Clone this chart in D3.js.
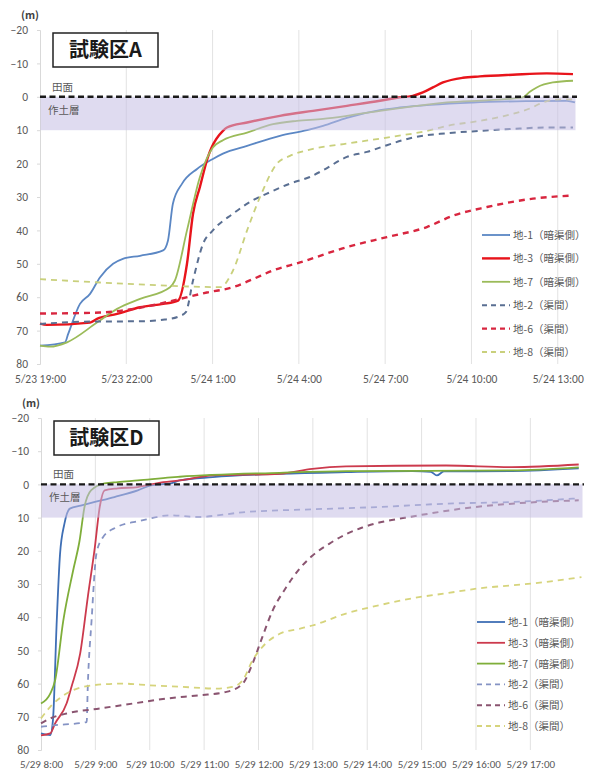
<!DOCTYPE html>
<html>
<head>
<meta charset="utf-8">
<script src="https://cdn.jsdelivr.net/npm/d3@7"></script>
<style>
  html, body { margin: 0; padding: 0; background: #fff; }
  svg { display: block; font-family: "Noto Sans CJK JP", "Noto Sans", sans-serif; }
</style>
</head>
<body>
<svg id="chart" width="593" height="771"></svg>
<script>
// ---- 試験区A : elapsed hours from 5/23 19:00, depth (m) ----
const aStart = new Date(2020, 4, 23, 19, 0);
const aEnd = 18.6;
const aTickHours = [0, 3, 6, 9, 12, 15, 18];
const aTickLabels = ["5/23 19:00", "5/23 22:00", "5/24 1:00", "5/24 4:00", "5/24 7:00", "5/24 10:00", "5/24 13:00"];

const aChi1 = [[0,74.5],[0.87,73.5],[0.98,71],[1.39,62],[1.74,59],[2.09,54],[2.54,50],[2.88,48.5],[3.48,47.6],[4.28,46],[4.45,43],[4.62,32],[4.94,26],[5.46,21.6],[6.01,18.6],[6.36,17],[7.2,14.7],[8.34,11.7],[9.28,10],[9.84,8.7],[10.67,6.3],[11.82,4],[12.51,3.2],[15.05,1.7],[17.03,1.3],[18.32,1.2],[18.6,1.7]];
const aChi3 = [[0,67.9],[0.24,68.3],[1.74,67.6],[1.98,66.5],[2.68,65],[3.48,63],[4.28,62],[4.8,61],[5.11,50],[5.32,35],[5.56,27],[5.84,18],[5.95,15.5],[6.36,10.2],[6.5,9.2],[7.2,7.7],[8.34,5.7],[9.49,4.2],[10.67,2.7],[11.82,1.2],[12.41,0.3],[12.96,-0.3],[13.31,-1.3],[13.66,-2.8],[14.01,-4.3],[14.7,-5.7],[15.29,-6.1],[16.44,-6.6],[17.62,-7],[18.53,-6.8]];
const aChi7 = [[0,74.5],[0.35,74.8],[0.94,73.5],[1.98,67.6],[2.68,63.5],[3.48,60.5],[4.52,57],[4.69,55],[5.11,40],[5.56,24],[6.01,15.2],[6.36,13],[7.2,10.7],[8.1,8.2],[8.93,7.2],[9.84,6.6],[10.67,5.7],[11.82,4.2],[12.51,3.4],[14.15,1.7],[15.64,1],[16.79,0.2],[17.03,-1.5],[17.27,-2.8],[17.83,-4.3],[18.53,-4.8]];
const aChi2 = [[0,68],[1.74,67.3],[3.48,67.2],[4.34,66.7],[4.87,65.6],[5.07,64.5],[5.32,55],[5.67,44],[6.01,40],[6.71,35],[7.4,31],[7.89,29],[8.69,26],[9.38,24],[9.84,22],[10.67,18],[11.37,16.5],[12.06,14.5],[12.96,12.2],[14.15,10.9],[15.29,10.2],[16.44,9.6],[17.62,9.2],[18.53,9.2]];
const aChi6 = [[0,64.9],[2.09,64.6],[3.82,62.6],[4.87,60.5],[5.8,58.6],[6.71,57],[7.4,54.6],[8.1,52],[9.04,49.6],[10.67,45],[12.06,42],[13.45,39],[14.36,35.6],[15.54,33],[17.14,30.5],[18.42,29.6]];
const aChi8 = [[0,54.6],[2.09,55.6],[3.82,56.3],[5.56,56.9],[6.26,57],[6.71,52],[7.2,40],[7.65,30],[8.24,20],[8.69,17.7],[9.49,15.6],[10.67,14],[12.06,12.2],[13.45,10.2],[14.15,8.7],[15.29,7.2],[16.44,5.1],[17.03,3.5],[17.48,1.7],[18.07,0.8],[18.53,0.8]];

// ---- 試験区D : elapsed hours from 5/29 8:00, depth (m) ----
const dStart = new Date(2020, 4, 29, 8, 0);
const dEnd = 9.95;
const dTickHours = [0, 1, 2, 3, 4, 5, 6, 7, 8, 9];
const dTickLabels = ["5/29 8:00", "5/29 9:00", "5/29 10:00", "5/29 11:00", "5/29 12:00", "5/29 13:00", "5/29 14:00", "5/29 15:00", "5/29 16:00", "5/29 17:00"];

const dChi1 = [[0,75],[0.17,75.5],[0.22,71],[0.29,41],[0.35,21],[0.43,11.9],[0.53,7.3],[0.73,6.4],[0.99,5.3],[1.35,3.8],[1.78,1.8],[2.02,0.3],[2.39,-0.3],[2.55,-1.2],[3.16,-2.2],[4.39,-3.2],[5.61,-3.7],[6.83,-4],[7.17,-3.8],[7.28,-2.7],[7.41,-3.9],[8.66,-4],[9.89,-4.8]];
const dChi3 = [[0,75.6],[0.17,75],[0.26,72],[0.47,66],[0.56,61],[0.72,51],[0.86,34],[0.99,19],[1.08,6.8],[1.17,1.8],[1.41,1.2],[1.78,0.8],[2.15,-0.4],[2.55,-1.2],[3.16,-2.7],[4.39,-3.2],[4.99,-4.7],[5.61,-5.4],[7.45,-5.7],[8.66,-5.2],[9.89,-6]];
const dChi7 = [[0,66],[0.17,63],[0.26,59],[0.41,41],[0.59,26],[0.71,16.9],[0.8,6.8],[0.92,1.8],[1.17,-0.3],[1.41,-0.7],[1.78,-1.2],[2.39,-2.1],[2.55,-2.3],[4.39,-3.5],[5.61,-4],[8.66,-4.2],[9.89,-5.1]];
const dChi2 = [[0,73],[0.22,72.6],[0.84,71.6],[0.86,61],[0.93,41],[1.02,20.8],[1.14,15.9],[1.39,12.9],[1.82,11],[2.39,9.3],[2.86,9.8],[3.78,8.3],[4.99,7.5],[6.22,6.8],[7.45,5.8],[8.66,5.3],[9.89,4.2]];
const dChi6 = [[0,72],[0.17,70.5],[0.47,69],[1.08,67.5],[1.69,66],[2.31,64.5],[2.92,63.5],[3.41,62.5],[3.71,60],[3.89,54],[4.07,46],[4.26,38],[4.51,31],[4.75,25.5],[4.99,21.5],[5.3,17.9],[5.61,15],[5.91,13],[6.22,11.5],[6.53,10.5],[7.14,8.8],[7.74,7.3],[8.66,5.8],[9.89,4.8]];
const dChi8 = [[0,70.5],[0.17,67],[0.47,63],[0.95,60.5],[1.5,60],[2.0,60.5],[2.61,61],[3.23,61.5],[3.52,61],[3.71,59],[3.89,53],[4.07,49],[4.39,45],[4.75,43.5],[4.99,42.5],[5.61,38.9],[6.22,36.4],[6.83,34.3],[7.45,32.8],[8.06,31.3],[8.66,30.4],[9.28,29.4],[9.94,27.9]];

const seriesNames = ["地-1（暗渠側）", "地-3（暗渠側）", "地-7（暗渠側）", "地-2（渠間）", "地-6（渠間）", "地-8（渠間）"];
const yTicks = [-20, -10, 0, 10, 20, 30, 40, 50, 60, 70, 80];

const svg = d3.select("#chart");
const HOUR = 3600 * 1000;

function drawPanel(cfg) {
  const g = svg.append("g");
  const t = h => new Date(cfg.start.getTime() + h * HOUR);
  const x = d3.scaleTime().domain([t(0), t(cfg.end)]).range([cfg.left, cfg.right]);
  const y = d3.scaleLinear().domain([-20, 80]).range([cfg.top, cfg.bottom]);

  // vertical grid lines at each time tick
  g.append("g").selectAll("line").data(cfg.tickHours.slice(1)).join("line")
    .attr("x1", h => x(t(h))).attr("x2", h => x(t(h)))
    .attr("y1", cfg.top).attr("y2", cfg.bottom)
    .attr("stroke", "#e2e2e2").attr("stroke-width", 1);

  // y axis
  const yAxis = d3.axisLeft(y).tickValues(yTicks).tickSize(3).tickPadding(9).tickFormat(d3.format("d"));
  const ya = g.append("g").attr("transform", `translate(${cfg.left},0)`).call(yAxis);
  ya.select(".domain").attr("stroke", "#d9d9d9");
  ya.selectAll(".tick line").attr("stroke", "#d9d9d9");
  ya.selectAll("text").attr("fill", "#595959").style("font-size", "11.5px").style("font-family", "Calibri, Carlito, 'Liberation Sans', sans-serif");

  // x axis labels
  const tickMap = new Map(cfg.tickHours.map((h, i) => [+t(h), cfg.tickLabels[i]]));
  const xAxis = d3.axisBottom(x).tickValues(cfg.tickHours.map(t)).tickSize(0).tickPadding(cfg.xPad)
    .tickFormat(d => tickMap.get(+d));
  const xa = g.append("g").attr("transform", `translate(0,${cfg.bottom})`).call(xAxis);
  xa.select(".domain").remove();
  xa.selectAll("text").attr("fill", "#595959").style("font-size", cfg.xFont).style("font-family", "Calibri, Carlito, 'Liberation Sans', sans-serif");

  // unit label
  g.append("text").attr("x", cfg.left - 19).attr("y", cfg.top - 11).text("(m)")
    .attr("fill", "#404040").style("font-size", "10.5px").style("font-weight", "bold");

  // series lines
  const line = d3.line().x(d => x(t(d[0]))).y(d => y(d[1])).curve(d3.curveMonotoneX);
  cfg.series.forEach(s => {
    g.append("path").datum(s.data).attr("d", line)
      .attr("fill", "none").attr("stroke", s.color).attr("stroke-width", s.width)
      .attr("stroke-dasharray", s.dash || null).attr("stroke-linejoin", "round");
  });

  // 作土層 band (0–10 m), translucent over the lines
  g.append("rect").attr("x", cfg.left + 0.5).attr("width", cfg.right - cfg.left)
    .attr("y", y(0)).attr("height", y(10) - y(0))
    .attr("fill", "rgb(196,190,228)").attr("fill-opacity", 0.55);

  // 田面 line at 0
  g.append("line").attr("x1", cfg.left).attr("x2", cfg.right + 2)
    .attr("y1", y(0)).attr("y2", y(0))
    .attr("stroke", "#1a1a1a").attr("stroke-width", 2.4).attr("stroke-dasharray", "6,3.5");

  g.append("text").attr("x", cfg.left + 12).attr("y", y(0) - 6).text("田面")
    .attr("fill", "#595959").style("font-size", "10.5px");
  g.append("text").attr("x", cfg.left + 8).attr("y", y(0) + 17).text("作土層")
    .attr("fill", "#595959").style("font-size", "10.5px");

  // title box
  g.append("rect").attr("x", cfg.left + 13).attr("y", cfg.top + 3).attr("width", 105).attr("height", 34)
    .attr("fill", "#fff").attr("stroke", "#222").attr("stroke-width", 1.5);
  g.append("text").attr("x", cfg.left + 65.5).attr("y", cfg.top + 27).attr("text-anchor", "middle")
    .text(cfg.title).attr("fill", "#1a1a1a").style("font-size", "20px").style("font-weight", "bold");

  // legend
  const lg = g.append("g").selectAll("g").data(cfg.series).join("g")
    .attr("transform", (s, i) => `translate(${cfg.legX},${cfg.legY + i * cfg.legStep})`);
  lg.append("line").attr("x1", 0).attr("x2", 28).attr("y1", 0).attr("y2", 0)
    .attr("stroke", s => s.color).attr("stroke-width", s => Math.min(s.width, 2.4))
    .attr("stroke-dasharray", s => s.dash ? "5,4" : null);
  lg.append("text").attr("x", 31).attr("y", 4).text((s, i) => seriesNames[i])
    .attr("fill", "#595959").style("font-size", "10.5px");
}

drawPanel({
  title: "試験区A", start: aStart, end: aEnd,
  tickHours: aTickHours, tickLabels: aTickLabels,
  left: 40, right: 575, top: 30, bottom: 364, xPad: 11, xFont: "11.5px",
  legX: 482, legY: 235, legStep: 23.4,
  series: [
    { data: aChi1, color: "#5b87c4", width: 1.8 },
    { data: aChi3, color: "#e8141b", width: 2.4 },
    { data: aChi7, color: "#9bbb59", width: 1.8 },
    { data: aChi2, color: "#5a6f92", width: 2, dash: "6,5" },
    { data: aChi6, color: "#d8263f", width: 2.4, dash: "6,5" },
    { data: aChi8, color: "#c9d07c", width: 1.8, dash: "6,5" }
  ]
});

drawPanel({
  title: "試験区D", start: dStart, end: dEnd,
  tickHours: dTickHours, tickLabels: dTickLabels,
  left: 41, right: 582, top: 418, bottom: 750, xPad: 10, xFont: "11px",
  legX: 477, legY: 622, legStep: 20.8,
  series: [
    { data: dChi1, color: "#3f6fb5", width: 1.8 },
    { data: dChi3, color: "#cc3a4d", width: 1.8 },
    { data: dChi7, color: "#7fae3a", width: 1.8 },
    { data: dChi2, color: "#8593c4", width: 1.8, dash: "6,5" },
    { data: dChi6, color: "#8a5470", width: 2, dash: "6,5" },
    { data: dChi8, color: "#d6d47c", width: 1.8, dash: "6,5" }
  ]
});
</script>
</body>
</html>
